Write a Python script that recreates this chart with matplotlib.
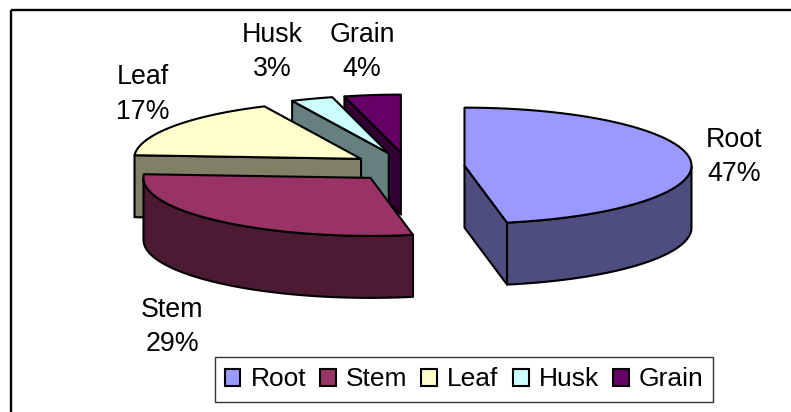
import numpy as np
import matplotlib
matplotlib.use("Agg")
import matplotlib.pyplot as plt
from matplotlib.patches import Polygon, Rectangle

plt.rcParams['font.family'] = ['Liberation Sans', 'DejaVu Sans']

categories = ["Root", "Stem", "Leaf", "Husk", "Grain"]
values = [47, 29, 17, 3, 4]
top_colors = ["#9999FF", "#993366", "#FFFFCC", "#CCFFFF", "#660066"]
side_colors = ["#4D4D80", "#4D1A33", "#808066", "#668080", "#330033"]
label_xy = [(734, 157), (172, 327), (142.5, 94.5), (272, 52), (362, 52)]

W, H = 791, 412
OX, OY = 408.0, 167.0   # pie origin (px)
A, B = 227.0, 58.0      # ellipse semi-axes (px)
DEPTH = 62.0
EXPLODE = 0.25
LW = 1.5
FS = 19.3

fig = plt.figure(figsize=(W / 100, H / 100), dpi=100, facecolor="white")
ax = fig.add_axes([0, 0, 1, 1])
ax.set_xlim(0, W)
ax.set_ylim(H, 0)
ax.axis("off")

# chart frame: runs off the right and bottom of the image
ax.add_patch(Rectangle((11, 9.5), 900, 500, fill=False, ec="black", lw=1.7, zorder=0))


def rim(cx, cy, t):
    r = np.radians(t)
    return np.column_stack([cx + A * np.cos(r), cy - B * np.sin(r)])


def poly(pts, fc, z):
    ax.add_patch(Polygon(pts, closed=True, fc=fc, ec="black", lw=LW, joinstyle="round", zorder=z))


total = sum(values)
fracs = np.array(values) / total * 360
starts = 90 - np.concatenate([[0], np.cumsum(fracs)[:-1]])
ends = starts - fracs
order = [4, 3, 2, 1, 0]

for z, i in enumerate(order):
    t0, t1 = starts[i], ends[i]
    mid = np.radians((t0 + t1) / 2)
    cx = OX + EXPLODE * A * np.cos(mid)
    cy = OY - EXPLODE * B * np.sin(mid)
    ts = np.linspace(t0, t1, 120)
    arc = rim(cx, cy, ts)
    c = np.array([[cx, cy]])
    d = np.array([0, DEPTH])
    zz = z * 10 + 1
    # radial side faces visible from the viewer
    for t in (t0, t1):
        e = rim(cx, cy, np.array([t]))
        tm = rim(cx, cy, np.array([(t0 + t1) / 2]))[0]
        v = e[0] - c[0]
        side = v[0] * (tm[1] - cy) - v[1] * (tm[0] - cx)
        nrm = v[0]
        if (side < 0 and nrm > 0) or (side > 0 and nrm < 0):
            poly(np.vstack([c, e, e + d, c + d]), side_colors[i], zz)
    # outer rim wall for the part of the arc at the front
    tn = np.radians(ts)
    front = np.sin(tn) <= 0
    if front.any():
        fa = arc[front]
        poly(np.vstack([fa, (fa + d)[::-1]]), side_colors[i], zz + 1)
    poly(np.vstack([c, arc]), top_colors[i], zz + 2)

for (x, y), cat, v in zip(label_xy, categories, values):
    ax.text(x, y, f"{cat}\n{v}%", ha="center", va="center", fontsize=FS, color="black",
            linespacing=1.42, zorder=100)

handles = [Rectangle((0, 0), 1, 1, fc=c, ec="black", lw=1.5) for c in top_colors]
leg = ax.legend(handles, categories, loc="center", bbox_to_anchor=(464 / W, 1 - 379.5 / H),
                ncol=5, fontsize=19, frameon=True, fancybox=False, edgecolor="#333333",
                facecolor="white", framealpha=1, handlelength=0.6, handleheight=0.6,
                handletextpad=0.38, columnspacing=0.53, borderpad=0.38, borderaxespad=0)
leg.get_frame().set_linewidth(1.0)
leg.set_zorder(200)

fig.savefig("out.png", dpi=100)
